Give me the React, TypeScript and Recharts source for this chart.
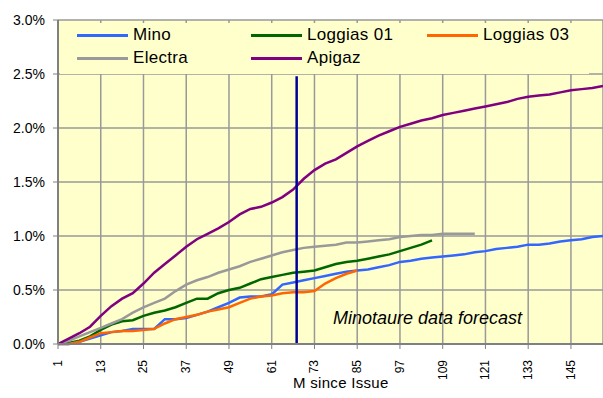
import { LineChart, Line, XAxis, YAxis, CartesianGrid, Legend, ReferenceLine } from 'recharts';

// months since issue, sampled every 3 months
const months = [
  1, 4, 7, 10, 13, 16, 19, 22, 25, 28, 31, 34, 37, 40, 43, 46, 49, 52, 55, 58, 61, 64, 67, 70, 73, 76,
  79, 82, 85, 88, 91, 94, 97, 100, 103, 106, 109, 112, 115, 118, 121, 124, 127, 130, 133, 136, 139, 142,
  145, 148, 151, 154,
];

// cumulative default rate, %
const mino = [
  0, 0, 0.02, 0.05, 0.08, 0.11, 0.12, 0.14, 0.14, 0.14, 0.23, 0.23, 0.24, 0.27, 0.3, 0.34, 0.38, 0.43,
  0.44, 0.44, 0.46, 0.55, 0.57, 0.59, 0.61, 0.63, 0.65, 0.67, 0.68, 0.69, 0.71, 0.73, 0.76, 0.77, 0.79,
  0.8, 0.81, 0.82, 0.83, 0.85, 0.86, 0.88, 0.89, 0.9, 0.92, 0.92, 0.93, 0.95, 0.96, 0.97, 0.99, 1.0,
];
const loggias01 = [
  0, 0.01, 0.03, 0.07, 0.13, 0.18, 0.21, 0.22, 0.26, 0.29, 0.31, 0.34, 0.38, 0.42, 0.42, 0.47, 0.5, 0.52,
  0.56, 0.6, 0.62, 0.64, 0.66, 0.67, 0.68, 0.71, 0.74, 0.76, 0.77, 0.79, 0.81, 0.83, 0.86, 0.89, 0.92, 0.96,
];
const loggias03 = [
  0, 0, 0.02, 0.06, 0.1, 0.11, 0.12, 0.12, 0.13, 0.14, 0.19, 0.23, 0.25, 0.27, 0.3, 0.32, 0.34, 0.38,
  0.42, 0.44, 0.45, 0.47, 0.48, 0.48, 0.49, 0.56, 0.61, 0.65, 0.68,
];
const electra = [
  0, 0.03, 0.07, 0.11, 0.15, 0.19, 0.23, 0.29, 0.34, 0.38, 0.42, 0.49, 0.55, 0.59, 0.62, 0.66, 0.69, 0.72,
  0.76, 0.79, 0.82, 0.85, 0.87, 0.89, 0.9, 0.91, 0.92, 0.94, 0.94, 0.95, 0.96, 0.97, 0.99, 1.0, 1.01, 1.01,
  1.02, 1.02, 1.02, 1.02,
];
const apigaz = [
  0, 0.05, 0.1, 0.16, 0.26, 0.35, 0.42, 0.47, 0.56, 0.66, 0.74, 0.82, 0.9, 0.97, 1.02, 1.07, 1.13, 1.2,
  1.25, 1.27, 1.31, 1.36, 1.43, 1.53, 1.61, 1.67, 1.71, 1.77, 1.83, 1.88, 1.93, 1.97, 2.01, 2.04, 2.07,
  2.09, 2.12, 2.14, 2.16, 2.18, 2.2, 2.22, 2.24, 2.27, 2.29, 2.3, 2.31, 2.33, 2.35, 2.36, 2.37, 2.39,
];

const seriesNames = ['Mino', 'Loggias 01', 'Loggias 03', 'Electra', 'Apigaz'];
const xTicks = [1, 13, 25, 37, 49, 61, 73, 85, 97, 109, 121, 133, 145];
const yTicks = [0, 0.5, 1, 1.5, 2, 2.5, 3];
const forecastMonth = 68;
const forecastTop = 2.48;

const data = months.map((m, i) => ({
  m,
  mino: mino[i] ?? null,
  loggias01: loggias01[i] ?? null,
  loggias03: loggias03[i] ?? null,
  electra: electra[i] ?? null,
  apigaz: apigaz[i] ?? null,
}));

const FONT = '"Liberation Sans", Arial, sans-serif';

const XTick = ({ x, y, payload }: any) => (
  <text
    x={x}
    y={y}
    transform={`rotate(-90 ${x} ${y})`}
    textAnchor="end"
    dominantBaseline="central"
    fontSize={12}
    fontFamily={FONT}
    fill="#000"
  >
    {payload.value}
  </text>
);

const renderLegend = ({ payload }: any) => {
  const items = [...(payload || [])].sort(
    (a: any, b: any) => seriesNames.indexOf(a.value) - seriesNames.indexOf(b.value)
  );
  return (
    <div style={{ display: 'grid', gridTemplateColumns: '174px 176px 160px' }}>
      {items.map((e: any) => (
        <div key={e.value} style={{ display: 'flex', alignItems: 'center', height: 22.7 }}>
          <span style={{ width: 51, height: 3, background: e.color, marginRight: 5 }} />
          <span style={{ fontSize: 17, color: '#000', fontFamily: FONT, letterSpacing: 0.3 }}>{e.value}</span>
        </div>
      ))}
    </div>
  );
};

export default function App() {
  return (
    <div style={{ position: 'absolute', left: 0, top: 0, width: 603, height: 398, background: '#fff' }}>
      <LineChart width={603} height={398} data={data} margin={{ top: 20, right: 0, bottom: 0, left: 0 }}>
        <CartesianGrid fill="#FFFFCC" stroke="#999" strokeWidth={1.5} />
        <XAxis
          dataKey="m"
          type="number"
          domain={[1, 154]}
          ticks={xTicks}
          height={54}
          tick={<XTick />}
          tickSize={5}
          tickMargin={11}
          axisLine={{ stroke: '#808080', strokeWidth: 2 }}
          tickLine={{ stroke: '#808080' }}
        />
        <YAxis
          type="number"
          domain={[0, 3]}
          ticks={yTicks}
          width={58}
          tickFormatter={(v) => `${v.toFixed(1)}%`}
          tick={{ fontSize: 14, fontFamily: FONT, fill: '#000' }}
          tickSize={5}
          tickMargin={8}
          axisLine={{ stroke: '#808080', strokeWidth: 2 }}
          tickLine={{ stroke: '#808080' }}
        />
        <Legend
          layout="horizontal"
          verticalAlign="middle"
          align="center"
          content={renderLegend}
          wrapperStyle={{
            position: 'absolute',
            left: 60,
            top: 23,
            width: 512,
            height: 50,
            paddingLeft: 17,
            paddingTop: 1,
            background: '#FFFFCC',
          }}
        />
        <Line dataKey="mino" name="Mino" stroke="#3366FF" strokeWidth={2.5} dot={false} isAnimationActive={false} />
        <Line dataKey="loggias01" name="Loggias 01" stroke="#006600" strokeWidth={2.5} dot={false} isAnimationActive={false} />
        <Line dataKey="loggias03" name="Loggias 03" stroke="#FF6600" strokeWidth={2.5} dot={false} isAnimationActive={false} />
        <Line dataKey="electra" name="Electra" stroke="#999999" strokeWidth={2.5} dot={false} isAnimationActive={false} />
        <Line dataKey="apigaz" name="Apigaz" stroke="#800080" strokeWidth={2.5} dot={false} isAnimationActive={false} />
        <ReferenceLine
          segment={[
            { x: forecastMonth, y: 0 },
            { x: forecastMonth, y: forecastTop },
          ]}
          stroke="#000099"
          strokeWidth={2.5}
        />
      </LineChart>
      <div
        style={{
          position: 'absolute',
          left: 333,
          top: 308,
          fontSize: 18,
          fontStyle: 'italic',
          fontFamily: FONT,
          color: '#000',
          whiteSpace: 'nowrap',
        }}
      >
        Minotaure data forecast
      </div>
      <div
        style={{
          position: 'absolute',
          left: 293,
          top: 374,
          fontSize: 15,
          letterSpacing: 0.3,
          fontFamily: FONT,
          color: '#000',
          whiteSpace: 'nowrap',
        }}
      >
        M since Issue
      </div>
    </div>
  );
}
